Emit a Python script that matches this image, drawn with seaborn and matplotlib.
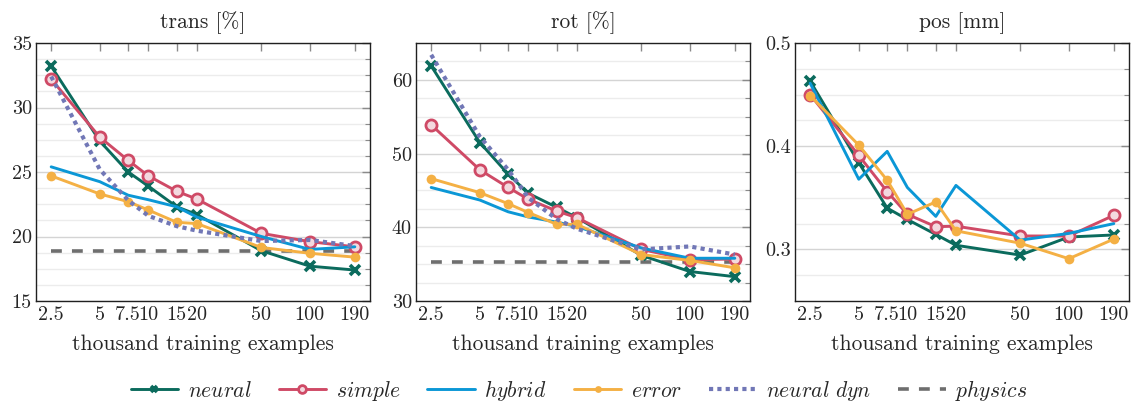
import numpy as np
import pandas as pd
import matplotlib
matplotlib.use("Agg")
import matplotlib.pyplot as plt
from matplotlib.ticker import FixedLocator, MultipleLocator, NullLocator
import seaborn as sns

# training set sizes (thousands)
sizes = [2.5, 5, 7.5, 10, 15, 20, 50, 100, 190]
size_labels = ["2.5", "5", "7.5", "10", "15", "20", "50", "100", "190"]

# translation error [%]
trans_neural = [33.2, 27.4, 25.0, 23.9, 22.3, 21.7, 18.9, 17.7, 17.4]
trans_simple = [32.2, 27.7, 25.9, 24.7, 23.5, 22.9, 20.25, 19.6, 19.2]
trans_hybrid = [25.4, 24.25, 23.2, 22.85, 22.3, 21.5, 20.0, 19.0, 19.2]
trans_error = [24.7, 23.3, 22.7, 22.05, 21.1, 21.0, 19.15, 18.7, 18.4]
trans_neural_dyn = [32.4, 25.2, 22.8, 21.6, 20.8, 20.45, 19.65, 19.73, 19.26]
trans_physics = 18.9

# rotation error [%]
rot_neural = [61.9, 51.5, 47.2, 44.6, 42.7, 41.3, 36.2, 34.0, 33.3]
rot_simple = [53.9, 47.8, 45.4, 43.8, 42.2, 41.3, 37.0, 35.6, 35.7]
rot_hybrid = [45.4, 43.7, 42.1, 41.4, 40.7, 40.1, 37.2, 35.8, 35.8]
rot_error = [46.6, 44.7, 43.2, 42.0, 40.4, 40.4, 36.3, 35.5, 34.5]
rot_neural_dyn = [63.4, 52.3, 47.8, 44.0, 41.1, 39.8, 37.0, 37.4, 36.3]
rot_physics = 35.3

# position error [mm]
pos_neural = [0.463, 0.384, 0.340, 0.329, 0.3145, 0.304, 0.2945, 0.312, 0.314]
pos_simple = [0.450, 0.391, 0.356, 0.334, 0.322, 0.3225, 0.313, 0.313, 0.333]
pos_hybrid = [0.461, 0.368, 0.395, 0.360, 0.332, 0.362, 0.309, 0.3155, 0.325]
pos_error = [0.449, 0.401, 0.367, 0.334, 0.346, 0.318, 0.306, 0.291, 0.310]

C_NEURAL = "#0b6b5d"
C_SIMPLE = "#cf4a66"
C_HYBRID = "#0b97d6"
C_ERROR = "#f4b044"
C_DYN = "#7177b6"
C_PHYS = "#6e6e6e"

FS = 15.5

sns.set_theme(style="white")
plt.rcParams["font.family"] = ["cmr10", "DejaVu Serif"]
plt.rcParams["mathtext.fontset"] = "cm"
plt.rcParams["axes.formatter.use_mathtext"] = True

fig = plt.figure(figsize=(11.4, 4.08), dpi=100)
lefts = [36, 416, 795]
axes = [fig.add_axes([l / 1140, 107 / 408, 334 / 1140, 258 / 408]) for l in lefts]

panels = [
    dict(title="trans [%]", ylim=(15, 35), major=5, minor=1.25, fmt="{:.0f}",
         series=[trans_neural, trans_simple, trans_hybrid, trans_error],
         dyn=trans_neural_dyn, phys=trans_physics),
    dict(title="rot [%]", ylim=(30, 65), major=10, minor=2.5, fmt="{:.0f}",
         series=[rot_neural, rot_simple, rot_hybrid, rot_error],
         dyn=rot_neural_dyn, phys=rot_physics),
    dict(title="pos [mm]", ylim=(0.25, 0.5), major=0.1, minor=0.025, fmt="{:.1f}",
         series=[pos_neural, pos_simple, pos_hybrid, pos_error],
         dyn=None, phys=None),
]

styles = [
    dict(label=r"$\mathit{neural}$", color=C_NEURAL, marker="x", markersize=6.5,
         markeredgewidth=2.6, markeredgecolor=C_NEURAL),
    dict(label=r"$\mathit{simple}$", color=C_SIMPLE, marker="o", markersize=8,
         markerfacecolor="#f3d9df", markeredgecolor=C_SIMPLE, markeredgewidth=2.0),
    dict(label=r"$\mathit{hybrid}$", color=C_HYBRID, marker=None),
    dict(label=r"$\mathit{error}$", color=C_ERROR, marker="o", markersize=7,
         markeredgewidth=0, markerfacecolor=C_ERROR),
]

span = np.log10(sizes[-1] / sizes[0])
xlim = (sizes[0] / 10 ** (0.05 * span), sizes[-1] * 10 ** (0.05 * span))
x = np.array(sizes)

for ax, p in zip(axes, panels):
    lo, hi = p["ylim"]
    # horizontal grid at major and minor y ticks
    for v in np.arange(lo, hi + 1e-9, p["minor"]):
        is_major = abs(v / p["major"] - round(v / p["major"])) < 1e-6
        ax.axhline(v, color="#d4d4d4" if is_major else "#ececec", lw=1.0, zorder=0)

    if p["phys"] is not None:
        df = pd.DataFrame({"x": x, "y": np.full(len(x), p["phys"])})
        sns.lineplot(data=df, x="x", y="y", ax=ax, color=C_PHYS, lw=2.6,
                     label=r"$\mathit{physics}$", zorder=2)
        ax.lines[-1].set_dashes([3.0, 2.8])
    for vals, st in zip(p["series"], styles):
        df = pd.DataFrame({"x": x, "y": vals})
        sns.lineplot(data=df, x="x", y="y", ax=ax, lw=2.1, zorder=3, **st)
    if p["dyn"] is not None:
        df = pd.DataFrame({"x": x, "y": p["dyn"]})
        sns.lineplot(data=df, x="x", y="y", ax=ax, color=C_DYN, lw=3.0,
                     label=r"$\mathit{neural\ dyn}$", zorder=4)
        ax.lines[-1].set_dashes([1.0, 1.0])

    ax.set_xscale("log")
    ax.set_xlim(*xlim)
    ax.set_ylim(lo, hi)
    ax.xaxis.set_major_locator(FixedLocator(sizes))
    ax.set_xticklabels(size_labels)
    ax.xaxis.set_minor_locator(NullLocator())
    ax.yaxis.set_major_locator(MultipleLocator(p["major"]))
    ax.yaxis.set_minor_locator(MultipleLocator(p["minor"]))
    ax.set_yticklabels([p["fmt"].format(v) for v in ax.get_yticks()])
    ax.set_ylim(lo, hi)
    ax.tick_params(axis="both", which="both", direction="in", color="#8a8a8a",
                   top=True, right=True, labelsize=FS - 1, pad=4)
    ax.tick_params(axis="both", which="major", length=6, width=1.0)
    ax.tick_params(axis="y", which="minor", length=3.5, width=0.8)
    ax.tick_params(axis="y", which="major", pad=3)
    for s in ax.spines.values():
        s.set_color("#202020")
        s.set_linewidth(1.0)
    ax.set_title(p["title"], fontsize=FS, pad=11)
    ax.set_xlabel("thousand training examples", fontsize=FS, labelpad=7)
    ax.set_ylabel("")
    if ax.get_legend() is not None:
        ax.get_legend().remove()

handles, labels = axes[0].get_legend_handles_labels()
order = [r"$\mathit{neural}$", r"$\mathit{simple}$", r"$\mathit{hybrid}$",
         r"$\mathit{error}$", r"$\mathit{neural\ dyn}$", r"$\mathit{physics}$"]
hmap = dict(zip(labels, handles))
fig.legend([hmap[k] for k in order], order, loc="center", bbox_to_anchor=(0.508, 0.043),
           ncol=6, frameon=False, fontsize=FS, handlelength=2.2, columnspacing=1.25,
           handletextpad=0.45, markerscale=0.7)

fig.savefig("out.png", dpi=100)
